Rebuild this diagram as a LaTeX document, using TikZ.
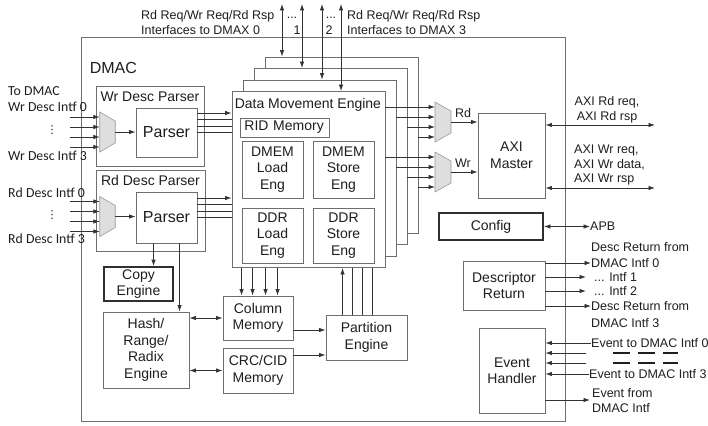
\documentclass[tikz,border=0pt]{standalone}
\usepackage{fontspec}
\setmainfont{Liberation Sans}
\newfontfamily\carlito{Carlito}
\newfontfamily\dejavu{DejaVu Sans}
\usetikzlibrary{arrows.meta,positioning,calc}
\definecolor{boxgray}{HTML}{6E6E6E}
\definecolor{wiregray}{HTML}{333333}
\definecolor{txt}{HTML}{1E1E1E}
\definecolor{muxgray}{HTML}{DEDEDE}
\definecolor{muxedge}{HTML}{9A9A9A}
\definecolor{darkline}{HTML}{303030}

\begin{document}
\begin{tikzpicture}[x=1pt,y=-1pt,>={Latex[length=6.5pt,width=4.5pt]},
  blk/.style={draw=boxgray,line width=0.9pt,fill=white,inner sep=1pt,align=center,text=txt,font=\fontsize{14}{16.5}\selectfont},
  heavy/.style={blk,draw=darkline,line width=1.8pt},
  wh/.style 2 args={minimum width=#1pt,minimum height=#2pt},
  frame/.style={draw=boxgray,line width=0.9pt,fill=white,inner sep=0pt},
  lbl/.style={inner sep=0pt,text=txt,font=\fontsize{12.5}{14.5}\selectfont},
  big/.style={font=\fontsize{14}{16.5}\selectfont},
  intf/.style={inner sep=0pt,anchor=west,text=txt,font=\carlito\fontsize{13.8}{16}\selectfont},
  vdot/.style={inner sep=0pt,text=txt,font=\dejavu\fontsize{11}{12}\selectfont},
  wire/.style={draw=wiregray,line width=0.8pt},
  muxbox/.style={minimum width=15.5pt,minimum height=40pt,inner sep=0pt,outer sep=0pt},
  muxfill/.style={fill=muxgray,draw=muxedge,line width=0.6pt}]
\useasboundingbox (0,0) rectangle (708,425);

% DMAC frame
\node[frame,wh={484}{384}] (dmac) at (323,229) {};
\node[lbl,font=\fontsize{16}{18}\selectfont,below right=26pt and 9pt of dmac.north west] (dmacl) {DMAC};

% interfaces to DMAX
\node[lbl,align=left,anchor=west] (dmax0l) at (141,22.5) {Rd Req/Wr Req/Rd Rsp\\Interfaces to DMAX 0};
\node[lbl,align=left,anchor=west] (dmax3l) at (347,22.5) {Rd Req/Wr Req/Rd Rsp\\Interfaces to DMAX 3};
\node[lbl] (dots1) at (292,18) {...};
\node[lbl] (num1) at (297,30) {1};
\node[lbl] (dots2) at (331,18) {...};
\node[lbl] (num2) at (329,30) {2};

% data movement engines, back to front
\foreach \k in {3,2,1,0}
  \node[frame,wh={153}{176}] (dme\k) at ({308.5+11*\k},{179.5-11.5*\k}) {};
\node[lbl,big,below right=7pt and 3pt of dme0.north west] (dmet) {Data Movement Engine};
\node[blk,anchor=west,text width=81pt,align=left,inner xsep=4pt,inner ysep=0pt,minimum height=19pt] (rid) at (240,127.5) {RID Memory};
\node[blk,wh={61}{57}] (dmemld) at (272.5,169.5) {DMEM\\Load\\Eng};
\node[blk,wh={61}{57}] (dmemst) at (343.5,169.5) {DMEM\\Store\\Eng};
\node[blk,wh={61}{55}] (ddrld) at (272.5,235.5) {DDR\\Load\\Eng};
\node[blk,wh={61}{55}] (ddrst) at (343.5,235.5) {DDR\\Store\\Eng};

% descriptor parsers
\node[blk,wh={108}{80}] (wrdp) at (150,126) {};
\node[lbl,big,below=6pt of wrdp.north] (wrdpt) {Wr Desc Parser};
\node[blk,wh={61}{49},font=\fontsize{16}{18}\selectfont] (wrparse) at (166.5,132.5) {Parser};
\node[muxbox] (wrinmux) at (107.5,132) {};
\node[blk,wh={109}{81}] (rddp) at (150.5,210.5) {};
\node[lbl,big,below=6pt of rddp.north] (rddpt) {Rd Desc Parser};
\node[blk,wh={61}{51},font=\fontsize{16}{18}\selectfont] (rdparse) at (166.5,217.5) {Parser};
\node[muxbox] (rdinmux) at (107.5,216.5) {};

\node[intf] (todmac) at (8,91) {To DMAC};
\node[intf] (wr0l) at (8,107) {Wr Desc Intf 0};
\node[vdot] (wrdots) at (52,130) {⋮};
\node[intf] (wr3l) at (8,156) {Wr Desc Intf 3};
\node[intf] (rd0l) at (8,193) {Rd Desc Intf 0};
\node[vdot] (rddots) at (52,215) {⋮};
\node[intf] (rd3l) at (8,239) {Rd Desc Intf 3};
\coordinate (wrsrc) at (70,132);
\coordinate (rdsrc) at (70,216.5);

% AXI side
\node[muxbox,minimum width=16pt] (rdoutmux) at (443,122) {};
\node[muxbox,minimum width=16pt] (wroutmux) at (443,172) {};
\node[lbl] (rdl) at (463,113) {Rd};
\node[lbl] (wrl) at (463,163) {Wr};
\node[blk,wh={67}{85}] (axi) at (511.5,155.5) {AXI\\Master};
\node[heavy,wh={104}{27}] (config) at (491,226.5) {Config};
\node[blk,wh={82}{49}] (descret) at (504,285.5) {Descriptor\\Return};
\node[blk,wh={66}{85}] (evt) at (512,370.5) {Event\\Handler};

\node[lbl,align=center] (axirdl) at (607,110) {AXI Rd req,\\AXI Rd rsp};
\node[lbl,align=left,anchor=west] (axiwrl) at (574,165) {AXI Wr req,\\AXI Wr data,\\AXI Wr rsp};
\coordinate (axird) at (655,125);
\coordinate (axiwr) at (655,188);
\node[lbl,anchor=west] (apb) at (590,226.5) {APB};

\node[lbl,anchor=west] (drtop) at (591,247) {Desc Return from};
\node[lbl,anchor=west] (dr0) at (591,263) {DMAC Intf 0};
\node[lbl,anchor=west,inner xsep=8pt] (dr1) at (586,277) {... Intf 1};
\node[lbl,anchor=west,inner xsep=8pt] (dr2) at (586,291) {... Intf 2};
\node[lbl,anchor=west] (dr3) at (591,306) {Desc Return from};
\node[lbl,anchor=west] (dr3b) at (591,323) {DMAC Intf 3};

\node[lbl,anchor=west] (ev0) at (591,343) {Event to DMAC Intf 0};
\node[inner sep=0pt] (ev1) at (587,353) {};
\node[inner sep=0pt] (ev2) at (587,363) {};
\node[lbl,anchor=west] (ev3) at (589,374) {Event to DMAC Intf 3};
\node[lbl,anchor=west] (evfr) at (592,393) {Event from};
\node[lbl,anchor=west] (evfr2) at (592,408) {DMAC Intf};
\coordinate (evout) at (590,400);

% lower engines
\node[heavy,wh={69}{34}] (copy) at (138.5,284) {Copy\\Engine};
\node[blk,wh={86}{76}] (hash) at (146,350) {Hash/\\Range/\\Radix\\Engine};
\node[blk,wh={70}{44}] (colmem) at (258,318) {Column\\Memory};
\node[blk,wh={70}{45}] (crc) at (258,370.5) {CRC/CID\\Memory};
\node[blk,wh={81}{45}] (part) at (366.5,337.5) {Partition\\Engine};

% muxes
\foreach \m in {wrinmux,rdinmux,rdoutmux,wroutmux}
  \filldraw[muxfill] (\m.north west) -- ($(\m.north east)+(0,9)$) -- ($(\m.south east)+(0,-9)$) -- (\m.south west) -- cycle;

% DMAX interfaces
\foreach \x/\f in {282/dme3,302/dme2,322/dme1,341/dme0} {
  \coordinate (top\x) at (\x,4);
  \draw[wire,<->] (top\x) -- (top\x |- \f.north);
}

% descriptor inputs
\foreach \d in {-15,-5,5,15} {
  \draw[wire,->] ($(wrsrc)+(0,\d)$) -- ($(wrinmux.west)+(0,\d)$);
  \draw[wire,->] ($(rdsrc)+(0,\d)$) -- ($(rdinmux.west)+(0,\d)$);
}
\draw[wire,->] (wrinmux.east) -- (wrparse.west |- wrinmux.east);
\draw[wire,->] (rdinmux.east) -- (rdparse.west |- rdinmux.east);

% parsers to engines
\foreach \p in {wrparse,rdparse} {
  \draw[wire,->] ($(\p.east)+(0,-19.5)$) -- ($(dme0.west |- \p.east)+(0,-19.5)$);
  \foreach \d in {-13,-6.5,0}
    \draw[wire] ($(\p.east)+(0,\d)$) -- ($(dme0.west |- \p.east)+(0,\d)$);
}

% engines to muxes
\foreach \k/\d in {0/-15,1/-5,2/5,3/15} {
  \draw[wire,->] ($(dme\k.east |- rdoutmux.west)+(0,\d)$) -- ($(rdoutmux.west)+(0,\d)$);
  \draw[wire,->] ($(dme\k.east |- wroutmux.west)+(0,\d)$) -- ($(wroutmux.west)+(0,\d)$);
}
\draw[wire,->] (rdoutmux.east) -- (axi.west |- rdoutmux.east);
\draw[wire,->] (wroutmux.east) -- (axi.west |- wroutmux.east);
\draw[wire,<->] (axi.east |- axird) -- (axird);
\draw[wire,<->] (axi.east |- axiwr) -- (axiwr);
\draw[wire,<->] (config.east) -- (apb.west);

% descriptor return and events
\foreach \n in {dr0,dr1,dr2,dr3}
  \draw[wire,->] (descret.east |- \n.west) -- (\n.west);
\foreach \n in {ev0,ev1,ev2,ev3}
  \draw[wire,->] (\n.west) -- (evt.east |- \n.west);
\foreach \y in {353,363}
  \draw[draw=txt,line width=2pt,dash pattern=on 17pt off 8pt] (613,\y) -- (678,\y);
\draw[wire,->] (evt.east |- evout) -- (evout);

% lower part
\draw[wire,->] ($(rdparse.south west)+(18,0)$) coordinate (cpa) -- (cpa |- copy.north);
\draw[wire,->] ($(rdparse.south west)+(44,0)$) coordinate (hsa) -- (hsa |- hash.north);
\foreach \d in {10,21,34,46}
  \draw[wire,->] ($(dme0.south west)+(\d,0)$) coordinate (cm) -- (cm |- colmem.north);
\draw[wire,->] ($(part.north west)+(17,0)$) coordinate (pu) -- (pu |- dme0.south);
\foreach \d in {27,37,47}
  \draw[wire] ($(part.north west)+(\d,0)$) coordinate (pu) -- (pu |- dme0.south);
\draw[wire,<->] (hash.east |- colmem.west) -- (colmem.west);
\draw[wire,<->] (hash.east |- crc.west) -- (crc.west);
\draw[wire,->] ($(colmem.east)+(0,12)$) coordinate (cp1) -- (cp1 -| part.west);
\draw[wire,->] ($(crc.east)+(0,-15.5)$) coordinate (cp2) -- (cp2 -| part.west);
\end{tikzpicture}
\end{document}
